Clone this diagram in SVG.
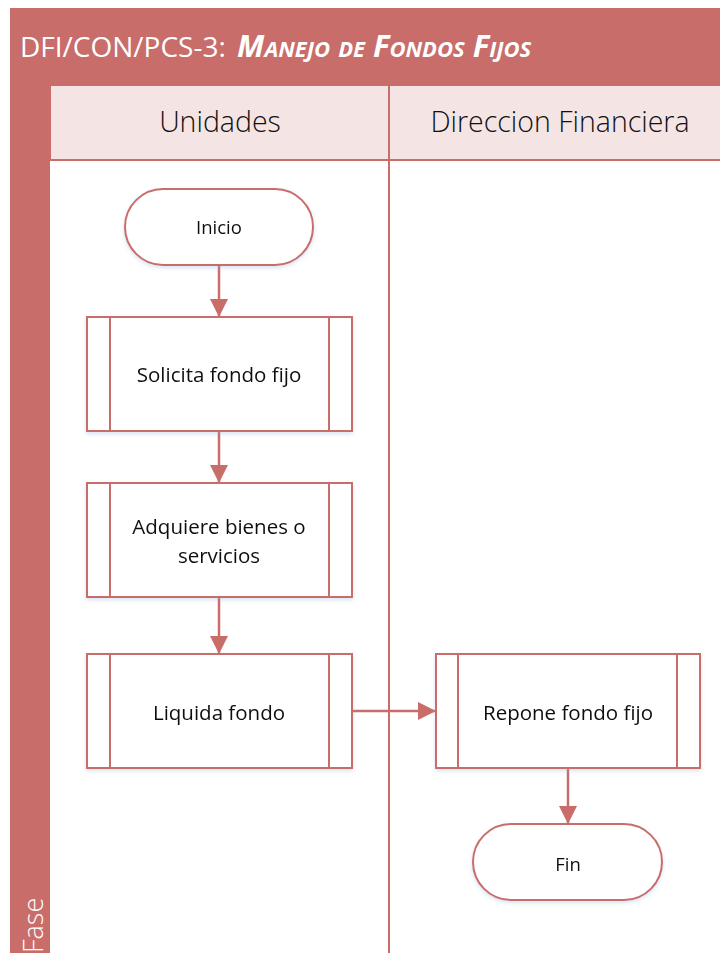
<svg xmlns="http://www.w3.org/2000/svg" width="720" height="953" viewBox="0 0 720 953">
<defs>
<style>
.band{fill:#C96D6A}
.hdr{fill:#F5E4E4;stroke:#C96D6A;stroke-width:2}
.div{stroke:#C96D6A;stroke-width:2;fill:none}
.box{fill:#ffffff;stroke:#C96D6A;stroke-width:2}
.sub{stroke:#C96D6A;stroke-width:2}
.conn{stroke:#C96D6A;stroke-width:2.5;fill:none}
.t{font-family:"Open Sans","Noto Sans","DejaVu Sans",sans-serif;fill:#111111;text-anchor:middle}
.h{font-family:"Open Sans","Noto Sans","DejaVu Sans",sans-serif;font-size:28.5px;fill:#111111;text-anchor:middle;font-weight:300}
</style>
<marker id="ah" markerWidth="18" markerHeight="18" refX="18" refY="9" orient="auto" markerUnits="userSpaceOnUse">
<path d="M0,0 L18,9 L0,18 z" fill="#C96D6A"/>
</marker>
<filter id="sh" x="-10%" y="-10%" width="120%" height="130%">
<feDropShadow dx="0" dy="2" stdDeviation="2" flood-color="#8fb0d8" flood-opacity="0.35"/>
</filter>
</defs>
<rect x="0" y="0" width="720" height="953" fill="#ffffff"/>
<g id="pool">
<rect class="band" x="10" y="8" width="710" height="77"/>
<rect class="band" x="10" y="8" width="40" height="945"/>
<text x="20" y="57" font-family="'Open Sans','Noto Sans',sans-serif" font-size="28" fill="#ffffff">DFI/CON/PCS-3: <tspan dx="4" font-size="31" font-weight="700" font-style="italic" font-variant="small-caps">Manejo de Fondos Fijos</tspan></text>
<text transform="translate(43,953) rotate(-90)" x="0" y="0" font-family="'Open Sans','Noto Sans',sans-serif" font-size="27" fill="#ffffff" font-weight="300">Fase</text>
</g>
<g id="lane-unidades">
<rect class="hdr" x="50" y="85" width="339" height="75"/>
<text class="h" x="220" y="132">Unidades</text>
</g>
<g id="lane-direccion">
<rect class="hdr" x="389" y="85" width="333" height="75"/>
<text class="h" x="560" y="132">Direccion Financiera</text>
</g>
<line class="div" x1="389" y1="160" x2="389" y2="953"/>
<g id="connectors">
<line class="conn" x1="219" y1="265" x2="219" y2="317" marker-end="url(#ah)"/>
<line class="conn" x1="219" y1="431" x2="219" y2="483" marker-end="url(#ah)"/>
<line class="conn" x1="219" y1="597" x2="219" y2="654" marker-end="url(#ah)"/>
<line class="conn" x1="352" y1="711" x2="436" y2="711" marker-end="url(#ah)"/>
<line class="conn" x1="568" y1="768" x2="568" y2="824" marker-end="url(#ah)"/>
</g>
<g id="inicio" filter="url(#sh)">
<rect class="box" x="125" y="189" width="188" height="76" rx="38" ry="38"/>
<text class="t" x="219" y="234" font-size="18.5">Inicio</text>
</g>
<g id="solicita" filter="url(#sh)">
<rect class="box" x="87" y="317" width="265" height="114"/>
<line class="sub" x1="110" y1="317" x2="110" y2="431"/>
<line class="sub" x1="329" y1="317" x2="329" y2="431"/>
<text class="t" x="219" y="382" font-size="20.5">Solicita fondo fijo</text>
</g>
<g id="adquiere" filter="url(#sh)">
<rect class="box" x="87" y="483" width="265" height="114"/>
<line class="sub" x1="110" y1="483" x2="110" y2="597"/>
<line class="sub" x1="329" y1="483" x2="329" y2="597"/>
<text class="t" x="219" y="534" font-size="20.5">Adquiere bienes o</text>
<text class="t" x="219" y="563" font-size="20.5">servicios</text>
</g>
<g id="liquida" filter="url(#sh)">
<rect class="box" x="87" y="654" width="265" height="114"/>
<line class="sub" x1="110" y1="654" x2="110" y2="768"/>
<line class="sub" x1="329" y1="654" x2="329" y2="768"/>
<text class="t" x="219" y="720" font-size="20.5">Liquida fondo</text>
</g>
<g id="repone" filter="url(#sh)">
<rect class="box" x="436" y="654" width="264" height="114"/>
<line class="sub" x1="458" y1="654" x2="458" y2="768"/>
<line class="sub" x1="677" y1="654" x2="677" y2="768"/>
<text class="t" x="568" y="720" font-size="20.5">Repone fondo fijo</text>
</g>
<g id="fin" filter="url(#sh)">
<rect class="box" x="473" y="824" width="189" height="76" rx="38" ry="38"/>
<text class="t" x="568" y="871" font-size="18.5">Fin</text>
</g>
</svg>
